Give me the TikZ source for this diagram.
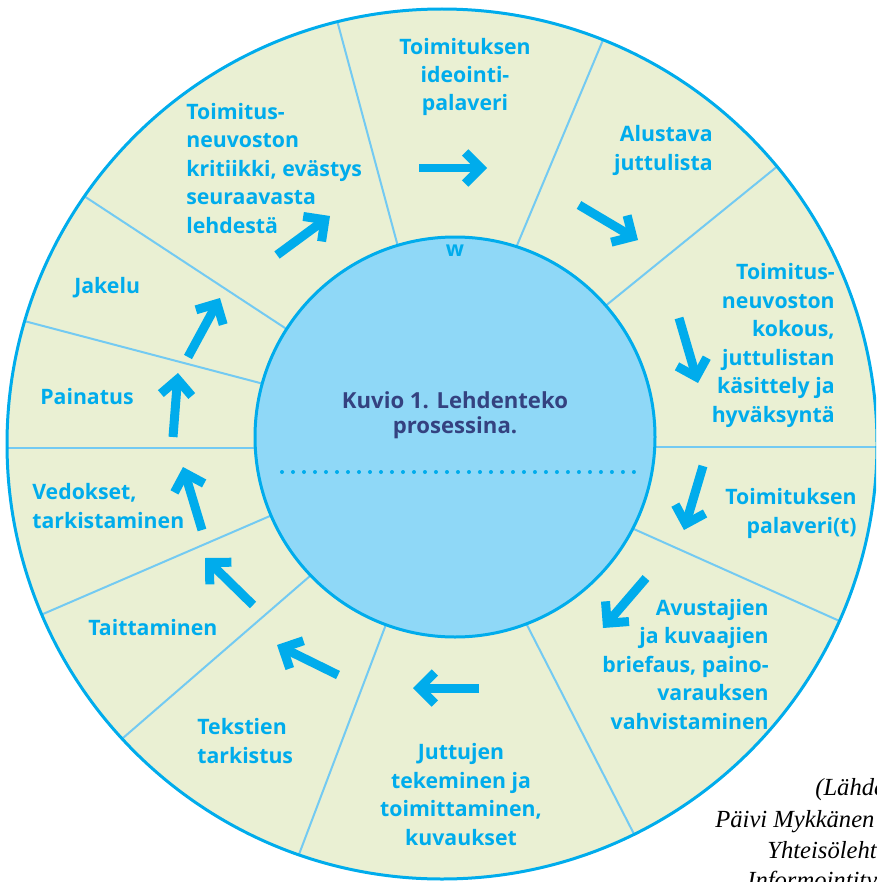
\documentclass[tikz,border=0pt]{standalone}
\usepackage{fontspec}
\setmainfont{Open Sans}
\newfontfamily\lahdefont{Liberation Serif}
\usetikzlibrary{arrows.meta}
\definecolor{syaani}{RGB}{0,172,236}
\definecolor{vaalea}{RGB}{234,240,211}
\definecolor{keskus}{RGB}{143,216,247}
\definecolor{puola}{RGB}{115,202,242}
\definecolor{otsikko}{RGB}{52,66,128}

\begin{document}
\begin{tikzpicture}[x=0.02cm, y=-0.02cm,
    vaihe/.style={font=\bfseries\fontsize{12.1}{16.2}\selectfont, text=syaani, inner sep=0pt},
    nuoli/.style={syaani, line width=0.18cm, -{Straight Barb[length=0.31cm, width=0.62cm]}},
    puolarivi/.style={puola, line width=0.04cm, shorten <=-0.3cm, shorten >=-0.3cm},
    lahde/.style={font=\lahdefont\itshape\fontsize{14}{17}\selectfont, inner sep=0pt, anchor=base west}]
    \useasboundingbox (0,0) rectangle (876,882);
    \clip (0,0) rectangle (876,882);

    \begin{scope}
        \fill[vaalea] (442,444) circle (435);
        \clip (442,444) circle (435);
        \foreach \xa/\ya/\xb/\yb in {397/243/338/24, 518/243/603/40, 609/303/779/165, 658/447/880/447,
                636/530/844/623, 528/627/636/838, 385/627/298/857, 310/576/123/738,
                270/516/43/614, 253/448/8/448, 260/383/28/322, 285/328/87/198}
            \draw[puolarivi] (\xa,\ya) -- (\xb,\yb);
    \end{scope}
    \draw[syaani, line width=0.06cm, fill=keskus] (455,437) circle (200);
    \draw[syaani, line width=0.06cm] (442,444) circle (435);
    \draw[syaani, line width=0.08cm, line cap=round, dash pattern=on 0pt off 0.22cm] (282,472) -- (634.5,472);

    \node[vaihe, anchor=base] (wmerkki) at (455,256) {w};
    \node[vaihe, text=otsikko, font=\bfseries\fontsize{12.6}{13.7}\selectfont, align=center, anchor=base] (kuvio) at (455,433) {Kuvio 1. Lehdenteko\\prosessina.};

    \node[vaihe, align=center, anchor=base] (ideointi) at (465,111) {Toimituksen\\ideointi-\\palaveri};
    \node[vaihe, align=right, anchor=base east] (alustava) at (713,170) {Alustava\\juttulista};
    \node[vaihe, align=right, anchor=base east] (kokous) at (835,422) {Toimitus-\\neuvoston\\kokous,\\juttulistan\\käsittely ja\\hyväksyntä};
    \node[vaihe, align=right, anchor=base east] (palaverit) at (857,533) {Toimituksen\\palaveri(t)};
    \node[vaihe, align=right, anchor=base east] (avustajat) at (769,729) {Avustajien\\ja kuvaajien\\briefaus, paino-\\varauksen\\vahvistaminen};
    \node[vaihe, align=center, anchor=base] (juttujen) at (461,845) {Juttujen\\tekeminen ja\\toimittaminen,\\kuvaukset};
    \node[vaihe, align=left, anchor=base west] (tekstit) at (197,763) {Tekstien\\tarkistus};
    \node[vaihe, anchor=base west] (taitto) at (88,635) {Taittaminen};
    \node[vaihe, align=left, anchor=base west] (vedokset) at (32,528) {Vedokset,\\tarkistaminen};
    \node[vaihe, anchor=base west] (painatus) at (40,404) {Painatus};
    \node[vaihe, anchor=base west] (jakelu) at (74,293) {Jakelu};
    \node[vaihe, align=left, anchor=base west] (kritiikki) at (186,233) {Toimitus-\\neuvoston\\kritiikki, evästys\\seuraavasta\\lehdestä};

    \foreach \xa/\ya/\xb/\yb in {419/168/487/168, 579/205/638/240, 679/318/698/383, 703/466/684/530,
            646/578/603/628, 479/688/413/688, 338/675/277/645, 253/605/205/558,
            202/530/183/467, 173/437/178/373, 188/357/220/298, 277/255/330/216}
        \draw[nuoli] (\xa,\ya) -- (\xb,\yb);

    \node[lahde] (lahde1) at (815,795) {(Lähde:};
    \node[lahde] (lahde2) at (715,827) {Päivi Mykkänen};
    \node[lahde] (lahde3) at (767,858) {Yhteisölehti};
    \node[lahde] (lahde4) at (747,888) {Informointityö};
\end{tikzpicture}
\end{document}
